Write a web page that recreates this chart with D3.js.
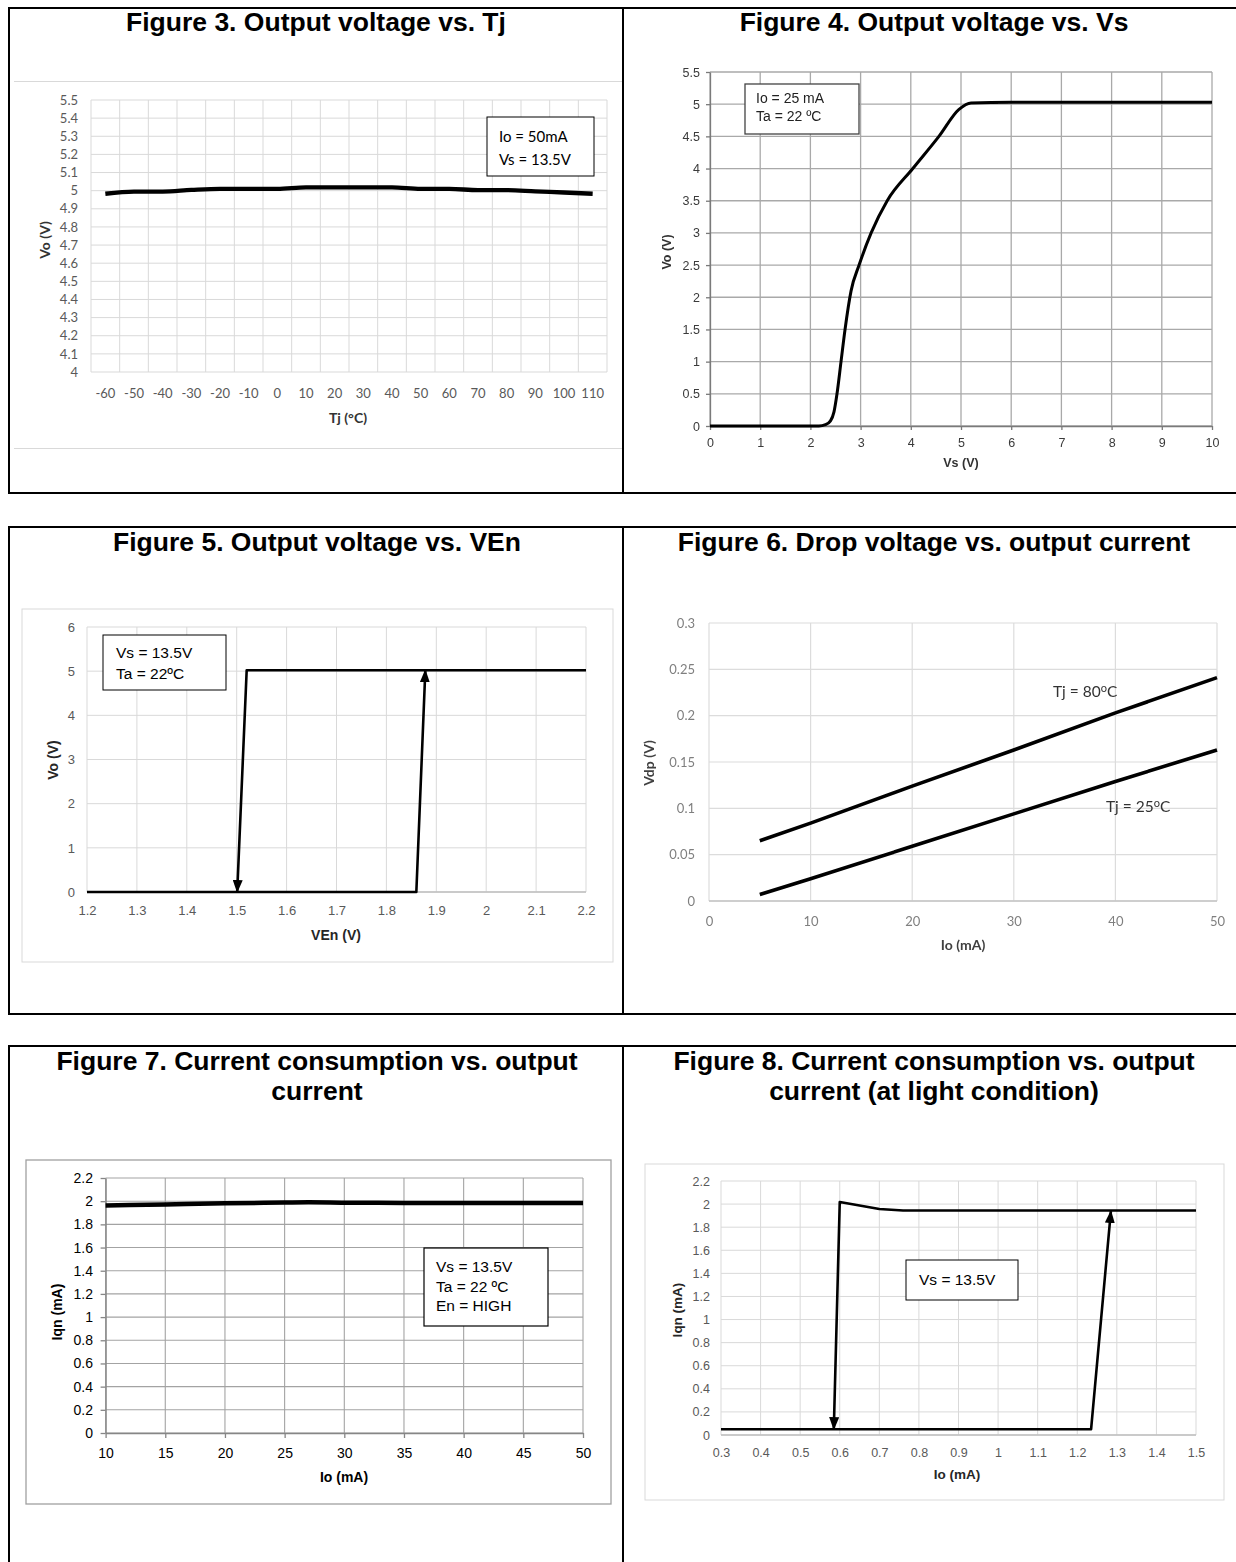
<!DOCTYPE html>
<html>
<head>
<meta charset="utf-8">
<script src="https://cdn.jsdelivr.net/npm/d3@7"></script>
<style>
  body { margin: 0; background: #fff; }
  svg { display: block; }
</style>
</head>
<body>
<svg id="page" width="1236" height="1562"></svg>
<script>
// ---------- Figure 3: Output voltage vs. Tj ----------
const tjCategories = ["-60","-50","-40","-30","-20","-10","0","10","20","30","40","50","60","70","80","90","100","110"];
const voVsTj = [4.983, 4.995, 4.995, 5.004, 5.01, 5.01, 5.01, 5.018, 5.018, 5.018, 5.018, 5.01, 5.01, 5.003, 5.003, 4.996, 4.99, 4.983];
const fig3YTicks = [4, 4.1, 4.2, 4.3, 4.4, 4.5, 4.6, 4.7, 4.8, 4.9, 5, 5.1, 5.2, 5.3, 5.4, 5.5];

// ---------- Figure 4: Output voltage vs. Vs ----------
const vsSweep = [0, 1, 2.17, 2.3, 2.4, 2.47, 2.53, 2.61, 2.69, 2.81, 2.97, 3.21, 3.53, 4.04, 4.56, 4.96, 5.2, 6, 8, 10];
const voVsVs  = [0, 0, 0,    0.02, 0.08, 0.22, 0.5, 1.0, 1.5, 2.1, 2.5, 3.0, 3.5, 4.0, 4.5, 4.92, 5.02, 5.03, 5.03, 5.03];
const fig4XTicks = [0, 1, 2, 3, 4, 5, 6, 7, 8, 9, 10];
const fig4YTicks = [0, 0.5, 1, 1.5, 2, 2.5, 3, 3.5, 4, 4.5, 5, 5.5];

// ---------- Figure 5: Output voltage vs. VEn (hysteresis) ----------
const venRising  = [1.2, 1.86, 1.878];
const voRising   = [0, 0, 5.02];
const venFalling = [2.2, 1.52, 1.501];
const voFalling  = [5.02, 5.02, 0];
const fig5XTicks = [1.2, 1.3, 1.4, 1.5, 1.6, 1.7, 1.8, 1.9, 2, 2.1, 2.2];
const fig5YTicks = [0, 1, 2, 3, 4, 5, 6];

// ---------- Figure 6: Drop voltage vs. output current ----------
const ioDrop = [5, 10, 20, 30, 40, 50];
const vdpTj80 = [0.065, 0.084, 0.124, 0.163, 0.203, 0.241];
const vdpTj25 = [0.007, 0.024, 0.059, 0.094, 0.129, 0.163];
const fig6XTicks = [0, 10, 20, 30, 40, 50];
const fig6YTicks = [0, 0.05, 0.1, 0.15, 0.2, 0.25, 0.3];

// ---------- Figure 7: Current consumption vs. output current ----------
const ioLoad  = [10, 15, 20, 25, 27, 30, 35, 40, 45, 50];
const iqnLoad = [1.963, 1.972, 1.982, 1.988, 1.99, 1.987, 1.985, 1.984, 1.984, 1.984];
const fig7XTicks = [10, 15, 20, 25, 30, 35, 40, 45, 50];
const fig7YTicks = [0, 0.2, 0.4, 0.6, 0.8, 1, 1.2, 1.4, 1.6, 1.8, 2, 2.2];

// ---------- Figure 8: Current consumption at light load (hysteresis) ----------
const ioLightRise  = [0.3, 1.235, 1.285];
const iqnLightRise = [0.05, 0.05, 1.94];
const ioLightFall  = [1.5, 0.76, 0.7, 0.6, 0.585];
const iqnLightFall = [1.944, 1.944, 1.958, 2.018, 0.05];
const fig8XTicks = [0.3, 0.4, 0.5, 0.6, 0.7, 0.8, 0.9, 1, 1.1, 1.2, 1.3, 1.4, 1.5];
const fig8YTicks = [0, 0.2, 0.4, 0.6, 0.8, 1, 1.2, 1.4, 1.6, 1.8, 2, 2.2];

const ARIAL = "'Liberation Sans', Arial, Helvetica, sans-serif";
const CALIBRI = "Lato, 'Open Sans', sans-serif";

const svg = d3.select("#page");
const defs = svg.append("defs");
defs.append("filter").attr("id", "soft")
  .append("feGaussianBlur").attr("stdDeviation", 0.55);
defs.append("marker")
  .attr("id", "arrowHead")
  .attr("viewBox", "0 0 13 10")
  .attr("markerUnits", "userSpaceOnUse")
  .attr("markerWidth", 13).attr("markerHeight", 10)
  .attr("refX", 12).attr("refY", 5)
  .attr("orient", "auto")
  .append("path").attr("d", "M0,0 L13,5 L0,10 Z").attr("fill", "#000");

// ---------- page frame ----------
const frame = svg.append("g").attr("fill", "none").attr("stroke", "#000").attr("stroke-width", 2);
[[8, 493], [527, 1014], [1046, 1600]].forEach(([t, b]) => {
  frame.append("rect").attr("x", 9).attr("y", t).attr("width", 1240).attr("height", b - t);
  frame.append("line").attr("x1", 623).attr("x2", 623).attr("y1", t).attr("y2", b);
});

// ---------- helpers ----------
function title(lines, cx, baseline) {
  const t = svg.append("text").attr("text-anchor", "middle")
    .attr("font-family", ARIAL).attr("font-weight", "bold").attr("font-size", 26.5).attr("fill", "#000");
  lines.forEach((s, i) => t.append("tspan").attr("x", cx).attr("y", baseline + i * 30).text(s));
}

function grid(g, x, y, xVals, yVals, color, width) {
  const [xa, xb] = x.range();
  const [ya, yb] = y.range();
  g.append("g").selectAll("line").data(yVals).join("line")
    .attr("x1", xa).attr("x2", xb).attr("y1", d => y(d)).attr("y2", d => y(d))
    .attr("stroke", color).attr("stroke-width", width);
  g.append("g").selectAll("line").data(xVals).join("line")
    .attr("y1", ya).attr("y2", yb).attr("x1", d => x(d)).attr("x2", d => x(d))
    .attr("stroke", color).attr("stroke-width", width);
}

function yLabels(g, y, vals, rightX, plotLeft, st) {
  const ax = g.append("g").attr("transform", `translate(${plotLeft},0)`)
    .call(d3.axisLeft(y).tickValues(vals).tickFormat(d => String(d)).tickSize(0).tickPadding(plotLeft - rightX));
  ax.select(".domain").remove();
  ax.attr("font-family", st.font).attr("font-size", st.size);
  ax.selectAll("text").attr("fill", st.color);
}

function xLabels(g, x, vals, baseline, st, fmt) {
  const ax = g.append("g").attr("transform", `translate(0,${baseline})`)
    .call(d3.axisBottom(x).tickValues(vals).tickFormat(fmt || (d => String(d))).tickSize(0).tickPadding(0));
  ax.select(".domain").remove();
  ax.attr("font-family", st.font).attr("font-size", st.size);
  ax.selectAll("text").attr("y", 0).attr("dy", 0).attr("fill", st.color);
}

function axisTitles(g, yText, yc, xText, xc, st) {
  g.append("text").attr("transform", `translate(${yc[0]},${yc[1]}) rotate(-90)`)
    .attr("text-anchor", "middle").attr("dy", "0.35em")
    .attr("font-family", st.font).attr("font-weight", "bold").attr("font-size", st.size).attr("fill", st.color)
    .text(yText);
  g.append("text").attr("x", xc[0]).attr("y", xc[1]).attr("text-anchor", "middle")
    .attr("font-family", st.font).attr("font-weight", "bold").attr("font-size", st.size).attr("fill", st.color)
    .text(xText);
}

function noteBox(g, x0, y0, w, h, lines, tx, baselines, st) {
  g.append("rect").attr("x", x0).attr("y", y0).attr("width", w).attr("height", h)
    .attr("fill", "#fff").attr("stroke", st.stroke || "#000").attr("stroke-width", st.sw || 1.2);
  lines.forEach((s, i) => g.append("text").attr("x", tx).attr("y", baselines[i])
    .attr("font-family", st.font).attr("font-size", st.size).attr("fill", st.color || "#000").text(s));
}

function seriesPath(g, x, y, xs, ys, width, curve, arrow) {
  const pts = xs.map((v, i) => [v, ys[i]]);
  const line = d3.line().x(d => x(d[0])).y(d => y(d[1])).curve(curve || d3.curveLinear);
  const p = g.append("path").attr("d", line(pts)).attr("fill", "none")
    .attr("stroke", "#000").attr("stroke-width", width)
    .attr("stroke-linejoin", "round").attr("stroke-linecap", "butt");
  if (arrow) p.attr("marker-end", "url(#arrowHead)");
  return p;
}

// ========== Figure 3 ==========
title(["Figure 3. Output voltage vs. Tj"], 316, 31);
{
  const g = svg.append("g");
  g.append("line").attr("x1", 14).attr("x2", 622).attr("y1", 81.5).attr("y2", 81.5).attr("stroke", "#d9d9d9");
  g.append("line").attr("x1", 14).attr("x2", 622).attr("y1", 448.5).attr("y2", 448.5).attr("stroke", "#d9d9d9");
  const x = d3.scaleBand().domain(tjCategories).range([91, 607]).paddingInner(0).paddingOuter(0);
  const y = d3.scaleLinear().domain([4, 5.5]).range([372, 100]);
  const bounds = tjCategories.map(c => x(c)).concat([x.range()[1]]);
  const lin = d3.scaleLinear().domain([91, 607]).range([91, 607]);
  grid(g, lin, y, bounds, fig3YTicks, "#d9d9d9", 1);
  const st = { font: CALIBRI, size: 13, color: "#595959" };
  yLabels(g, y, fig3YTicks, 78, 91, st);
  xLabels(g, x, tjCategories, 398, st);
  const cx = c => x(c) + x.bandwidth() / 2;
  const line = d3.line().x(d => cx(d[0])).y(d => y(d[1])).curve(d3.curveMonotoneX);
  g.append("path").attr("d", line(tjCategories.map((c, i) => [c, voVsTj[i]])))
    .attr("fill", "none").attr("stroke", "#000").attr("stroke-width", 4.3).attr("stroke-linecap", "butt");
  axisTitles(g, "Vo (V)", [45, 240], "Tj (°C)", [348, 423], { font: CALIBRI, size: 14, color: "#333" });
  noteBox(g, 487, 117, 107, 59, ["Io = 50mA", "Vs = 13.5V"], 499, [142, 165],
    { font: CALIBRI, size: 15, stroke: "#000", sw: 1 });
}

// ========== Figure 4 ==========
title(["Figure 4. Output voltage vs. Vs"], 934, 31);
{
  const g = svg.append("g").attr("filter", "url(#soft)");
  const x = d3.scaleLinear().domain([0, 10]).range([710, 1212]);
  const y = d3.scaleLinear().domain([0, 5.5]).range([426, 72]);
  grid(g, x, y, fig4XTicks, fig4YTicks, "#a9a9a9", 1.3);
  const bx = g.append("g").attr("transform", "translate(0,426)")
    .call(d3.axisBottom(x).tickValues(fig4XTicks).tickFormat("").tickSize(4).tickSizeOuter(0));
  bx.selectAll("line,path").attr("stroke", "#7a7a7a").attr("stroke-width", 1.3);
  const by = g.append("g").attr("transform", "translate(710,0)")
    .call(d3.axisLeft(y).tickValues(fig4YTicks).tickFormat("").tickSize(4).tickSizeOuter(0));
  by.selectAll("line,path").attr("stroke", "#7a7a7a").attr("stroke-width", 1.3);
  const st = { font: ARIAL, size: 12.5, color: "#3a3a3a" };
  yLabels(g, y, fig4YTicks, 700, 710, st);
  xLabels(g, x, fig4XTicks, 447, st);
  seriesPath(g, x, y, vsSweep, voVsVs, 3, d3.curveMonotoneX);
  axisTitles(g, "Vo (V)", [667, 252], "Vs (V)", [961, 467], { font: ARIAL, size: 12.5, color: "#333" });
  noteBox(g, 745, 84, 114, 50, ["Io = 25 mA", "Ta = 22 ºC"], 756, [103, 121],
    { font: ARIAL, size: 14, color: "#222", stroke: "#444", sw: 1.3 });
}

// ========== Figure 5 ==========
title(["Figure 5. Output voltage vs. VEn"], 317, 551);
{
  const g = svg.append("g");
  g.append("rect").attr("x", 22).attr("y", 609).attr("width", 591).attr("height", 353)
    .attr("fill", "none").attr("stroke", "#d9d9d9");
  const x = d3.scaleLinear().domain([1.2, 2.2]).range([87, 586]);
  const y = d3.scaleLinear().domain([0, 6]).range([892, 627]);
  grid(g, x, y, fig5XTicks, fig5YTicks, "#d9d9d9", 1);
  g.append("line").attr("x1", 87).attr("x2", 586).attr("y1", 892).attr("y2", 892)
    .attr("stroke", "#bfbfbf").attr("stroke-width", 1.5);
  const st = { font: ARIAL, size: 13, color: "#595959" };
  yLabels(g, y, fig5YTicks, 75, 87, st);
  xLabels(g, x, fig5XTicks, 915, st);
  seriesPath(g, x, y, venRising, voRising, 2.6, d3.curveLinear, true);
  seriesPath(g, x, y, venFalling, voFalling, 2.6, d3.curveLinear, true);
  axisTitles(g, "Vo (V)", [53, 760], "VEn (V)", [336, 940], { font: ARIAL, size: 14, color: "#262626" });
  noteBox(g, 103, 635, 123, 55, ["Vs = 13.5V", "Ta = 22ºC"], 116, [658, 679],
    { font: ARIAL, size: 15.5, stroke: "#000", sw: 1 });
}

// ========== Figure 6 ==========
title(["Figure 6. Drop voltage vs. output current"], 934, 551);
{
  const g = svg.append("g").attr("filter", "url(#soft)");
  const x = d3.scaleLinear().domain([0, 50]).range([709, 1217]);
  const y = d3.scaleLinear().domain([0, 0.3]).range([901, 623]);
  grid(g, x, y, fig6XTicks, fig6YTicks, "#dcdcdc", 1.2);
  g.append("line").attr("x1", 709).attr("x2", 1217).attr("y1", 901).attr("y2", 901)
    .attr("stroke", "#c4c4c4").attr("stroke-width", 1.5);
  const st = { font: CALIBRI, size: 13, color: "#7f7f7f" };
  yLabels(g, y, fig6YTicks, 695, 709, st);
  xLabels(g, x, fig6XTicks, 926, st);
  seriesPath(g, x, y, ioDrop, vdpTj80, 3.6);
  seriesPath(g, x, y, ioDrop, vdpTj25, 3.6);
  axisTitles(g, "Vdp (V)", [649, 763], "Io (mA)", [963, 950], { font: CALIBRI, size: 14, color: "#404040" });
  const lab = (tx, ty, deg) => {
    const t = g.append("text").attr("x", tx).attr("y", ty)
      .attr("font-family", CALIBRI).attr("font-size", 15.5).attr("fill", "#333");
    t.append("tspan").text("Tj = " + deg);
    t.append("tspan").attr("dy", -5).attr("font-size", 11).text("o");
    t.append("tspan").attr("dy", 5).text("C");
  };
  lab(1053, 697, "80");
  lab(1106, 812, "25");
}

// ========== Figure 7 ==========
title(["Figure 7. Current consumption vs. output", "current"], 317, 1070);
{
  const g = svg.append("g");
  g.append("rect").attr("x", 26).attr("y", 1160).attr("width", 585).attr("height", 344)
    .attr("fill", "none").attr("stroke", "#a0a0a0").attr("stroke-width", 1.3);
  const x = d3.scaleLinear().domain([10, 50]).range([105.6, 583]);
  const y = d3.scaleLinear().domain([0, 2.2]).range([1433, 1178]);
  grid(g, x, y, fig7XTicks, fig7YTicks, "#a3a3a3", 1.1);
  const bx = g.append("g").attr("transform", "translate(0,1433)")
    .call(d3.axisBottom(x).tickValues(fig7XTicks).tickFormat("").tickSize(5).tickSizeOuter(0));
  bx.selectAll("line,path").attr("stroke", "#868686").attr("stroke-width", 1.3);
  const by = g.append("g").attr("transform", "translate(105.6,0)")
    .call(d3.axisLeft(y).tickValues(fig7YTicks).tickFormat("").tickSize(5).tickSizeOuter(0));
  by.selectAll("line,path").attr("stroke", "#868686").attr("stroke-width", 1.3);
  const st = { font: ARIAL, size: 14, color: "#000" };
  yLabels(g, y, fig7YTicks, 93, 105.6, st);
  xLabels(g, x, fig7XTicks, 1458, st);
  seriesPath(g, x, y, ioLoad, iqnLoad, 4.5, d3.curveMonotoneX);
  axisTitles(g, "Iqn (mA)", [57, 1312], "Io (mA)", [344, 1482], { font: ARIAL, size: 14, color: "#000" });
  noteBox(g, 424, 1248, 124, 78, ["Vs = 13.5V", "Ta = 22 ºC", "En = HIGH"], 436, [1272, 1292, 1311],
    { font: ARIAL, size: 15.5, stroke: "#000", sw: 1.2 });
}

// ========== Figure 8 ==========
title(["Figure 8. Current consumption vs. output", "current (at light condition)"], 934, 1070);
{
  const g = svg.append("g");
  g.append("rect").attr("x", 645).attr("y", 1164).attr("width", 579).attr("height", 336)
    .attr("fill", "none").attr("stroke", "#d9d9d9");
  const x = d3.scaleLinear().domain([0.3, 1.5]).range([721, 1196]);
  const y = d3.scaleLinear().domain([0, 2.2]).range([1435, 1181]);
  grid(g, x, y, fig8XTicks, fig8YTicks, "#d9d9d9", 1);
  g.append("line").attr("x1", 721).attr("x2", 1196).attr("y1", 1435).attr("y2", 1435)
    .attr("stroke", "#bfbfbf").attr("stroke-width", 1.5);
  const st = { font: ARIAL, size: 12.5, color: "#595959" };
  yLabels(g, y, fig8YTicks, 710, 721, st);
  xLabels(g, x, fig8XTicks, 1457, st);
  seriesPath(g, x, y, ioLightRise, iqnLightRise, 2.6, d3.curveLinear, true);
  seriesPath(g, x, y, ioLightFall, iqnLightFall, 2.6, d3.curveLinear, true);
  axisTitles(g, "Iqn (mA)", [677, 1310], "Io (mA)", [957, 1479], { font: ARIAL, size: 13.5, color: "#262626" });
  noteBox(g, 906, 1260, 112, 40, ["Vs = 13.5V"], 919, [1285],
    { font: ARIAL, size: 15.5, stroke: "#000", sw: 1 });
}
</script>
</body>
</html>
